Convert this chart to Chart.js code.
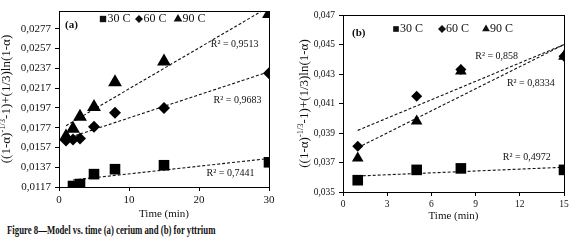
<!DOCTYPE html>
<html>
<head>
<meta charset="utf-8">
<script src="https://cdn.jsdelivr.net/npm/chart.js@4.4.0/dist/chart.umd.min.js"></script>
<style>
  body { margin: 0; background: #fff; width: 576px; height: 245px; overflow: hidden; position: relative; }
  #wrapA { position: absolute; left: 0; top: 0; width: 288px; height: 222px; }
  #wrapB { position: absolute; left: 290px; top: 0; width: 286px; height: 224px; }
  #caption { position: absolute; left: 7px; top: 224px; font: bold 11.5px "Liberation Serif", serif; color: #111; white-space: nowrap; transform: scaleX(0.76); transform-origin: left top; }
</style>
</head>
<body>
<div id="wrapA"><canvas id="chartCerium"></canvas></div>
<div id="wrapB"><canvas id="chartYttrium"></canvas></div>
<div id="caption">Figure 8—Model vs. time (a) cerium and (b) for yttrium</div>
<script>
// (a) cerium
const timeCe30 = [2, 3, 5, 8, 15, 30];
const timeCe = [1, 2, 3, 5, 8, 15, 30];
const ce30 = [0.0118, 0.0120, 0.0130, 0.0135, 0.0139, 0.0142];
const ce60 = [0.0164, 0.0165, 0.0166, 0.0178, 0.0192, 0.0197, 0.0232];
const ce90 = [0.0168, 0.0176, 0.0188, 0.0198, 0.0223, 0.0244, 0.0292];
const ceYTicks = [0.0117, 0.0137, 0.0157, 0.0177, 0.0197, 0.0217, 0.0237, 0.0257, 0.0277];
const ceR2 = ["R² = 0,7441", "R² = 0,9683", "R² = 0,9513"];

// (b) yttrium
const timeY = [1, 5, 8, 15];
const y30 = [0.0358, 0.0365, 0.0366, 0.0365];
const y60 = [0.0381, 0.0415, 0.0433, 0.0442];
const y90 = [0.0373, 0.0398, 0.0432, 0.0442];
const yYTicks = [0.035, 0.037, 0.039, 0.041, 0.043, 0.045, 0.047];
const yR2 = ["R² = 0,4972", "R² = 0,858", "R² = 0,8334"];

const seriesNames = ["30 C", "60 C", "90 C"];
const markers = ["rect", "rectRot", "triangle"];
const serif = "'Liberation Serif', 'Times New Roman', serif";

// least squares line over the x range of the data, like an Excel linear trendline
function trendLine(xs, ys) {
  const n = xs.length;
  const mx = xs.reduce((a, b) => a + b, 0) / n;
  const my = ys.reduce((a, b) => a + b, 0) / n;
  let sxy = 0, sxx = 0;
  xs.forEach((x, i) => {
    sxy += (x - mx) * (ys[i] - my);
    sxx += (x - mx) * (x - mx);
  });
  const k = sxy / sxx;
  const b = my - k * mx;
  const x0 = Math.min(...xs), x1 = Math.max(...xs);
  return [{ x: x0, y: b + k * x0 }, { x: x1, y: b + k * x1 }];
}

const toPoints = (xs, ys) => xs.map((x, i) => ({ x: x, y: ys[i] }));

// box around the plot, inside legend, R² labels, panel letter and the y title with superscript
const decorPlugin = {
  id: "decor",
  afterDatasetsDraw(chart, args, opts) {
    const ctx = chart.ctx;
    const a = chart.chartArea;
    const xs = chart.scales.x, ys = chart.scales.y;
    ctx.save();
    ctx.strokeStyle = "#000";
    ctx.lineWidth = 1;
    ctx.strokeRect(Math.round(a.left) + 0.5, Math.round(a.top) + 0.5, Math.round(a.right - a.left), Math.round(a.bottom - a.top));

    ctx.fillStyle = "#111";
    ctx.textBaseline = "middle";

    // legend row inside the plot
    const ly = a.top + opts.legendDy;
    chart.data.datasets.slice(0, 3).forEach((ds, i) => {
      const mx = a.left + opts.legendX[i];
      Chart.helpers.drawPoint(ctx, { pointStyle: ds.pointStyle, radius: opts.legendRadius[i], borderWidth: 0 }, mx, ly);
      ctx.font = "12px " + serif;
      ctx.textAlign = "left";
      ctx.fillText(ds.label, mx + opts.legendGap, ly);
    });

    ctx.font = "10px " + serif;
    ctx.textAlign = "center";
    (opts.labels || []).forEach((l) => {
      ctx.fillText(l.text, xs.getPixelForValue(l.x), ys.getPixelForValue(l.y));
    });

    ctx.font = "bold 11px " + serif;
    ctx.textAlign = "left";
    ctx.fillText(opts.panel, a.left + opts.panelDx, a.top + opts.panelDy);

    // rotated y title: ((1-α)^-1/3 -1)+(1/3)ln(1-α)
    const parts = [["((1-α)", 13, 0], ["-1/3", 8.5, -4], ["-1)+(1/3)ln(1-α)", 13, 0]];
    let total = 0;
    parts.forEach((p) => { ctx.font = p[1] + "px " + serif; total += ctx.measureText(p[0]).width; });
    ctx.translate(opts.titleX, (a.top + a.bottom) / 2);
    ctx.rotate(-Math.PI / 2);
    let cx = -total / 2;
    parts.forEach((p) => {
      ctx.font = p[1] + "px " + serif;
      ctx.fillText(p[0], cx, p[2]);
      cx += ctx.measureText(p[0]).width;
    });
    ctx.restore();
  }
};

function buildChart(id, cfg) {
  const datasets = [];
  cfg.series.forEach((s, i) => {
    datasets.push({
      label: seriesNames[i],
      data: toPoints(s.xs, s.ys),
      pointStyle: markers[i],
      pointRadius: cfg.radii[i],
      pointHoverRadius: cfg.radii[i],
      backgroundColor: "#000",
      borderColor: "#000",
      borderWidth: 0,
      showLine: false,
      order: 1
    });
  });
  cfg.series.forEach((s) => {
    datasets.push({
      label: "trend",
      data: trendLine(s.xs, s.ys),
      showLine: true,
      borderColor: "#111",
      borderWidth: 1.1,
      borderDash: [3, 2],
      pointRadius: 0,
      order: 2
    });
  });

  return new Chart(document.getElementById(id), {
    type: "scatter",
    data: { datasets: datasets },
    plugins: [decorPlugin],
    options: {
      responsive: true,
      maintainAspectRatio: false,
      animation: false,
      layout: { padding: cfg.padding },
      plugins: {
        tooltip: { enabled: false },
        legend: { display: false },
        decor: {
          labels: cfg.r2Labels,
          panel: cfg.panel,
          panelDx: cfg.panelDx,
          panelDy: cfg.panelDy,
          titleX: cfg.titleX,
          legendX: cfg.legendX,
          legendDy: cfg.legendDy,
          legendRadius: cfg.legendRadius,
          legendGap: cfg.legendGap
        }
      },
      scales: {
        x: {
          type: "linear",
          min: cfg.xMin,
          max: cfg.xMax,
          afterFit: (s) => { s.height = cfg.xHeight; },
          ticks: { stepSize: cfg.xStep, color: "#111", font: { family: serif, size: cfg.tickSize }, padding: 3, maxRotation: 0 },
          grid: { display: true, drawOnChartArea: false, drawTicks: true, tickLength: 4, color: "#000" },
          border: { color: "#000" },
          title: { display: true, text: "Time (min)", color: "#111", font: { family: serif, size: 11 }, padding: { top: 0, bottom: 1 } }
        },
        y: {
          type: "linear",
          min: cfg.yMin,
          max: cfg.yMax,
          afterFit: (s) => { s.width = cfg.yWidth; },
          afterBuildTicks: (s) => { s.ticks = cfg.yTicks.map((v) => ({ value: v })); },
          ticks: {
            color: "#111",
            font: { family: serif, size: cfg.tickSize },
            padding: 4,
            callback: (v) => v.toFixed(cfg.decimals).replace(".", ",")
          },
          grid: { display: true, drawOnChartArea: false, drawTicks: true, tickLength: 4, color: "#000" },
          border: { color: "#000" }
        }
      }
    }
  });
}

buildChart("chartCerium", {
  series: [
    { xs: timeCe30, ys: ce30 },
    { xs: timeCe, ys: ce60 },
    { xs: timeCe, ys: ce90 }
  ],
  radii: [7.5, 6, 8],
  padding: { top: 11, right: 19, bottom: 0, left: 0 },
  legendX: [44, 80, 119],
  legendDy: 8,
  legendRadius: [4.5, 4, 5],
  legendGap: 4.5,
  r2Labels: [
    { text: ceR2[0], x: 24.5, y: 0.01307 },
    { text: ceR2[1], x: 25.5, y: 0.0205 },
    { text: ceR2[2], x: 25.1, y: 0.02617 }
  ],
  panel: "(a)",
  panelDx: 6,
  panelDy: 14,
  titleX: 7,
  xMin: 0, xMax: 30, xStep: 10, xHeight: 35,
  yMin: 0.0117, yMax: 0.0295, yTicks: ceYTicks, yWidth: 59,
  decimals: 4,
  tickSize: 11
});

buildChart("chartYttrium", {
  series: [
    { xs: timeY, ys: y30 },
    { xs: timeY, ys: y60 },
    { xs: timeY, ys: y90 }
  ],
  radii: [7.5, 5.5, 6.7],
  padding: { top: 15, right: 12, bottom: 0, left: 0 },
  legendX: [53, 99, 143],
  legendDy: 14,
  legendRadius: [4, 4, 4.5],
  legendGap: 4,
  r2Labels: [
    { text: yR2[0], x: 12.47, y: 0.03733 },
    { text: yR2[1], x: 10.43, y: 0.04417 },
    { text: yR2[2], x: 12.75, y: 0.04237 }
  ],
  panel: "(b)",
  panelDx: 9,
  panelDy: 18,
  titleX: 15,
  xMin: 0, xMax: 15, xStep: 3, xHeight: 32,
  yMin: 0.035, yMax: 0.047, yTicks: yYTicks, yWidth: 53,
  decimals: 3,
  tickSize: 9.5
});
</script>
</body>
</html>
